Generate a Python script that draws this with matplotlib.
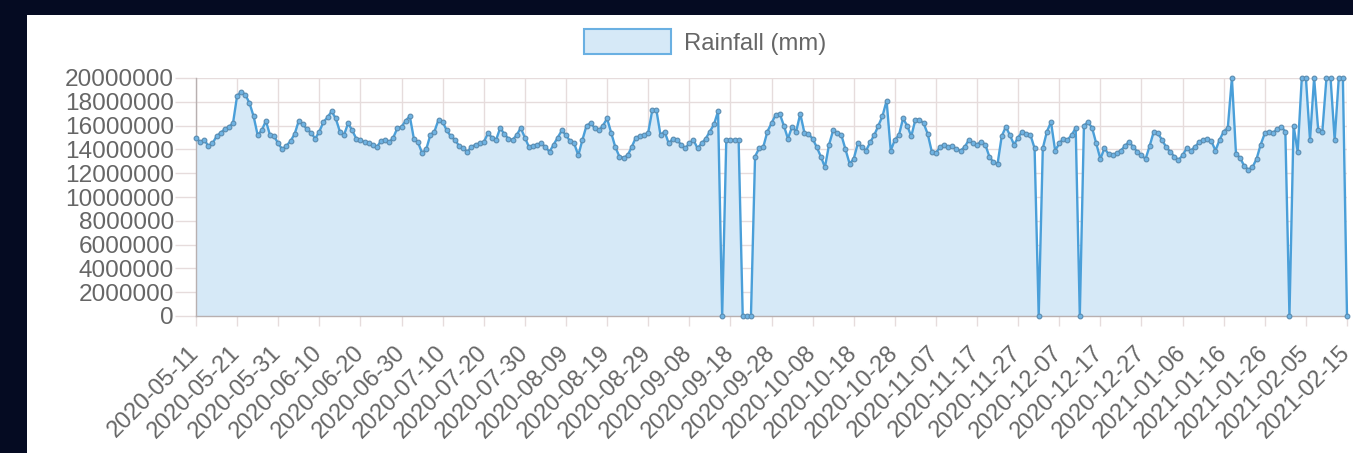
import matplotlib
matplotlib.use("Agg")
import matplotlib.pyplot as plt
import matplotlib.dates as mdates
from matplotlib.patches import Rectangle
import pandas as pd

# ---------------- data ----------------
start_date = "2020-05-11"
series_label = "Rainfall (mm)"
# daily values in millions
rain_millions = [
    15.0, 14.6, 14.8, 14.3, 14.5, 15.1, 15.4, 15.7, 15.9, 16.2,
    18.5, 18.85, 18.6, 17.9, 16.8, 15.2, 15.6, 16.4, 15.2, 15.1,
    14.5, 14.0, 14.3, 14.7, 15.3, 16.4, 16.1, 15.7, 15.4, 14.9,
    15.5, 16.3, 16.7, 17.2, 16.6, 15.5, 15.2, 16.2, 15.6, 14.9,
    14.8, 14.6, 14.5, 14.4, 14.2, 14.7, 14.8, 14.6, 15.0, 15.8,
    15.9, 16.4, 16.8, 14.9, 14.6, 13.7, 14.0, 15.2, 15.5, 16.5,
    16.3, 15.6, 15.1, 14.8, 14.3, 14.1, 13.8, 14.2, 14.4, 14.5,
    14.6, 15.35, 15.0, 14.8, 15.8, 15.3, 14.9, 14.8, 15.2, 15.8,
    15.0, 14.2, 14.3, 14.4, 14.5, 14.2, 13.8, 14.4, 15.0, 15.6,
    15.2, 14.7, 14.5, 13.5, 14.8, 16.0, 16.2, 15.8, 15.6, 16.0,
    16.6, 15.4, 14.2, 13.4, 13.3, 13.5, 14.2, 15.0, 15.1, 15.2,
    15.4, 17.3, 17.3, 15.2, 15.5, 14.5, 14.9, 14.8, 14.4, 14.1,
    14.5, 14.8, 14.1, 14.5, 14.9, 15.5, 16.1, 17.2, 0.0, 14.8,
    14.8, 14.8, 14.8, 0.0, 0.0, 0.0, 13.4, 14.1, 14.2, 15.5,
    16.2, 16.9, 17.0, 16.0, 14.9, 15.9, 15.5, 17.0, 15.4, 15.3,
    14.9, 14.2, 13.4, 12.5, 14.4, 15.6, 15.4, 15.2, 14.0, 12.8,
    13.2, 14.5, 14.2, 13.9, 14.6, 15.2, 16.0, 16.8, 18.1, 13.9,
    14.8, 15.2, 16.6, 16.0, 15.1, 16.5, 16.5, 16.2, 15.3, 13.8,
    13.7, 14.2, 14.4, 14.2, 14.3, 14.0, 13.9, 14.2, 14.8, 14.5,
    14.4, 14.65, 14.4, 13.4, 12.9, 12.8, 15.1, 15.9, 15.2, 14.4,
    15.0, 15.5, 15.3, 15.2, 14.1, 0.0, 14.1, 15.5, 16.3, 13.9,
    14.5, 14.9, 14.8, 15.2, 15.8, 0.0, 16.0, 16.3, 15.8, 14.5,
    13.2, 14.1, 13.6, 13.5, 13.7, 13.9, 14.3, 14.65, 14.2, 13.8,
    13.5, 13.2, 14.3, 15.5, 15.35, 14.8, 14.2, 13.8, 13.4, 13.1,
    13.5, 14.1, 13.9, 14.2, 14.6, 14.8, 14.9, 14.7, 13.9, 14.8,
    15.5, 15.8, 20.0, 13.6, 13.3, 12.6, 12.3, 12.5, 13.2, 14.4,
    15.35, 15.5, 15.4, 15.7, 15.9, 15.5, 0.0, 16.0, 13.8, 20.0,
    20.0, 14.8, 20.0, 15.6, 15.5, 20.0, 20.0, 14.8, 20.0, 20.0,
    0.0,
]
y_ticks = [0, 2000000, 4000000, 6000000, 8000000, 10000000,
           12000000, 14000000, 16000000, 18000000, 20000000]
tick_step_days = 10

dates = pd.date_range(start_date, periods=len(rain_millions), freq="D")
values = [v * 1e6 for v in rain_millions]
x_ticks = dates[::tick_step_days]
x_tick_labels = [d.strftime("%Y-%m-%d") for d in x_ticks]

# ---------------- style ----------------
W, H = 1353, 453
navy = "#050b22"
line_c = "#4a9fd9"
fill_c = "#d6e9f7"
grid_c = "#e6dcdc"
text_c = "#666666"
plt.rcParams["font.family"] = ["Liberation Sans", "DejaVu Sans"]

fig = plt.figure(figsize=(W / 100, H / 100), dpi=100, facecolor=navy)
fig.patches.append(Rectangle((27 / W, 0), 1 - 27 / W, 1 - 15 / H,
                             transform=fig.transFigure, facecolor="white",
                             edgecolor="none", zorder=-10))

ax = fig.add_axes([196 / W, 1 - 316 / H, (1347 - 196) / W, (316 - 78) / H])
ax.set_zorder(5)
ax.set_facecolor("none")

ax.fill_between(dates, values, 0, color=fill_c, linewidth=0, zorder=1)
ax.plot(dates, values, color=line_c, linewidth=1.7, zorder=3,
        marker="o", markersize=3.4, markerfacecolor="#6fb3e3",
        markeredgecolor="#5a8cb0", markeredgewidth=0.8, clip_on=False)

ax.set_xlim(dates[0], dates[-1])
ax.set_ylim(0, 20000000)
ax.set_yticks(y_ticks)
ax.set_yticklabels([str(v) for v in y_ticks])
ax.set_xticks(x_ticks)
ax.set_xticklabels(x_tick_labels, rotation=45, ha="right", va="center",
                   rotation_mode="anchor")

ax.grid(True, color=grid_c, linewidth=1.0, zorder=0)
ax.set_axisbelow(True)
for s in ["top", "right"]:
    ax.spines[s].set_visible(False)
for s in ["left", "bottom"]:
    ax.spines[s].set_color("#b8b0b0")
    ax.spines[s].set_linewidth(1.0)
    ax.spines[s].set_zorder(2)

ax.tick_params(axis="y", length=15, width=1, color=grid_c, pad=1,
               labelsize=17.6, labelcolor=text_c)
ax.tick_params(axis="x", length=7, width=1, color=grid_c, pad=17,
               labelsize=17, labelcolor=text_c)

# legend
fig.patches.append(Rectangle((584 / W, 1 - 54 / H), 87 / W, 25 / H,
                             transform=fig.transFigure, facecolor=fill_c,
                             edgecolor="#6ab0e2", linewidth=1.5, zorder=2))
fig.text(684 / W, 1 - 44 / H, series_label, color=text_c, fontsize=17.2,
         ha="left", va="center")

fig.savefig("out.png", dpi=100, facecolor=navy)
